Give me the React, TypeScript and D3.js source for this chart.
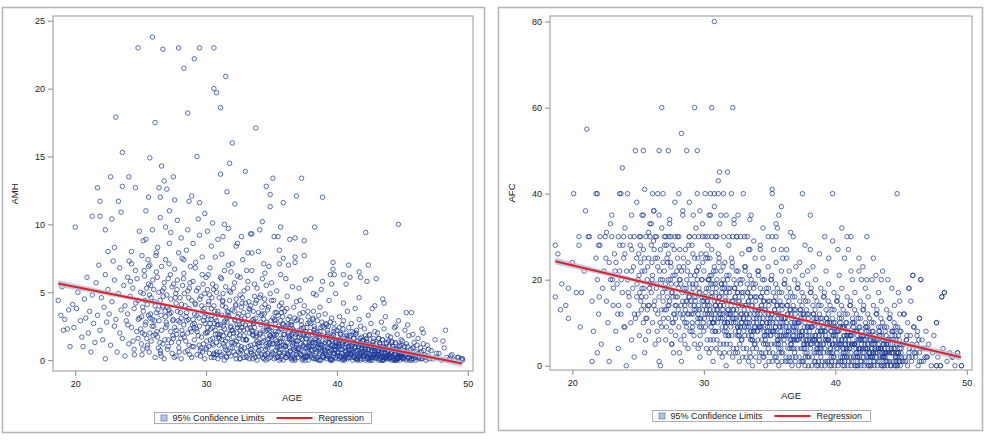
import React, { useEffect, useRef } from 'react';
import * as d3 from 'd3';

type Pt = [number, number];

const ageTicks = [20, 30, 40, 50];
const amhTicks = [0, 5, 10, 15, 20, 25];
const afcTicks = [0, 20, 40, 60, 80];

// ---------- AMH vs AGE (left panel) ----------
const amhYoung: Pt[] = [
  [18.7,4.4],[18.9,3.3],[19.0,5.4],[19.1,2.2],[19.2,3.0],[19.4,2.3],[19.5,3.7],[19.6,1.0],[19.8,4.1],[19.9,2.4],
  [20.1,3.8],[20.2,5.0],[20.4,2.9],[20.5,1.7],[20.6,1.0],[20.7,4.5],[20.8,3.1],[20.9,6.1],[21.0,2.0],[21.1,3.6],[21.2,0.6],
  [21.3,4.8],[21.4,2.7],[21.5,1.3],[21.6,5.7],[21.7,3.3],[21.8,7.0],[21.9,2.2],
  [22.0,4.6],[22.1,1.5],[22.2,3.9],[22.3,6.3],[22.3,0.1],[22.4,2.8],[22.5,5.2],[22.6,3.4],[22.7,1.1],[22.8,4.3],
  [22.9,7.3],[23.0,2.5],[23.0,5.9],[23.1,3.0],[23.2,0.6],[23.3,4.9],[23.4,2.0],[23.4,6.8],[23.5,3.7],[23.6,1.6],
  [23.7,5.5],[23.8,4.0],[23.8,0.3],[23.9,2.9],[24.0,6.1],[24.0,3.4],[24.1,1.2],[24.2,4.7],[24.3,8.0],[24.3,2.4],
  [24.4,5.3],[24.5,0.8],[24.5,3.8],[24.6,6.6],[24.7,2.1],[24.8,4.4],[24.8,1.6],[24.9,3.1],
];

const amhTwenties: Pt[] = [
  [25.0,5.0],[25.0,2.3],[25.1,7.7],[25.1,0.4],[25.2,3.6],[25.2,4.9],[25.3,1.9],[25.3,6.2],[25.4,2.8],[25.4,8.9],
  [25.5,4.1],[25.5,0.9],[25.6,3.3],[25.6,5.6],[25.7,2.0],[25.7,7.0],[25.8,4.6],[25.8,1.4],[25.9,3.0],[25.9,9.6],
  [26.0,5.2],[26.0,2.5],[26.1,0.2],[26.1,4.0],[26.2,6.5],[26.2,3.5],[26.3,1.7],[26.3,8.3],[26.4,2.9],[26.4,5.0],
  [26.5,0.7],[26.5,4.4],[26.6,6.9],[26.6,2.2],[26.7,3.9],[26.7,1.2],[26.8,5.7],[26.8,0.1],[26.9,3.2],[26.9,7.4],
  [27.0,2.6],[27.0,4.8],[27.1,1.0],[27.1,6.0],[27.2,3.4],[27.2,8.6],[27.3,2.1],[27.3,4.5],[27.4,0.5],[27.4,5.4],
  [27.5,3.0],[27.5,1.6],[27.6,6.7],[27.6,2.4],[27.7,4.2],[27.7,0.3],[27.8,5.9],[27.8,3.6],[27.9,1.3],[27.9,7.9],
  [28.0,2.8],[28.0,4.6],[28.1,0.1],[28.1,3.1],[28.2,5.5],[28.2,1.9],[28.3,6.4],[28.3,2.6],[28.4,4.0],[28.4,0.6],
  [28.5,3.5],[28.5,8.1],[28.6,2.0],[28.6,5.1],[28.7,1.1],[28.7,3.8],[28.8,6.9],[28.8,2.3],[28.9,4.4],[28.9,0.2],
  [29.0,3.0],[29.0,5.8],[29.1,1.5],[29.1,2.7],[29.2,7.2],[29.2,4.1],[29.3,0.4],[29.3,3.3],[29.4,5.3],[29.4,1.8],
  [29.5,9.2],[29.5,2.5],[29.6,4.7],[29.6,0.9],[29.7,3.6],[29.7,6.3],[29.8,1.2],[29.8,2.9],[29.9,4.9],[29.9,0.1],
  [25.12,2.0],[25.32,4.4],[25.52,1.1],[25.72,3.1],[25.92,5.9],[26.12,1.9],[26.32,3.7],[26.52,0.5],[26.72,4.7],[26.92,2.4],
  [27.12,1.5],[27.32,3.5],[27.52,5.6],[27.72,2.2],[27.92,0.9],[28.12,4.1],[28.32,1.7],[28.52,2.9],[28.72,5.3],[28.92,1.0],
  [29.12,3.4],[29.32,2.1],[29.52,4.5],[29.72,0.6],[29.92,2.7],
];

const amhThirties: Pt[] = [
  [30.0,3.4],[30.0,0.8],[30.1,5.2],[30.1,2.1],[30.2,1.0],[30.2,4.3],[30.3,6.8],[30.3,2.7],[30.4,0.2],[30.4,3.8],
  [30.5,1.6],[30.5,5.6],[30.5,2.4],[30.6,0.5],[30.6,4.0],[30.7,3.1],[30.7,7.6],[30.8,1.3],[30.8,2.9],[30.8,5.0],
  [30.9,0.1],[30.9,3.6],[30.9,1.9],[30.4,8.4],[30.7,2.2],
  [31.0,4.6],[31.0,1.1],[31.1,2.6],[31.1,6.1],[31.2,0.4],[31.2,3.3],[31.3,1.8],[31.3,4.9],[31.4,2.3],[31.4,0.0],
  [31.5,3.9],[31.5,5.4],[31.5,1.4],[31.6,2.8],[31.6,0.7],[31.7,7.0],[31.7,3.5],[31.8,1.9],[31.8,4.4],[31.9,0.3],
  [31.9,2.5],[31.9,6.5],[31.3,9.1],[31.6,3.1],[31.2,1.5],
  [32.0,3.7],[32.0,0.9],[32.1,2.0],[32.1,5.3],[32.2,1.2],[32.2,3.0],[32.3,0.1],[32.3,4.5],[32.4,2.4],[32.4,6.2],
  [32.5,1.6],[32.5,3.4],[32.6,0.5],[32.6,4.8],[32.6,2.2],[32.7,1.0],[32.7,3.9],[32.8,7.4],[32.8,2.7],[32.9,0.2],
  [32.9,1.8],[32.9,5.1],[32.4,8.6],[32.2,2.9],[32.7,0.7],
  [33.0,2.6],[33.0,4.2],[33.1,0.6],[33.1,1.5],[33.2,3.3],[33.2,5.8],[33.3,2.0],[33.3,0.1],[33.4,4.0],[33.4,1.1],
  [33.5,2.9],[33.5,6.6],[33.6,0.4],[33.6,3.6],[33.6,1.8],[33.7,2.4],[33.7,4.7],[33.8,0.9],[33.8,3.1],[33.9,1.4],
  [33.9,5.3],[33.9,0.0],[33.2,7.9],[33.5,2.2],[33.8,1.7],
  [34.0,3.5],[34.0,0.3],[34.1,1.9],[34.1,4.6],[34.2,2.6],[34.2,0.8],[34.3,6.0],[34.3,1.3],[34.4,3.0],[34.4,0.1],
  [34.5,2.1],[34.5,4.1],[34.6,1.0],[34.6,5.5],[34.6,2.8],[34.7,0.5],[34.7,3.7],[34.8,1.6],[34.8,2.3],[34.9,4.9],
  [34.9,0.2],[34.9,1.2],[34.4,7.1],[34.2,3.3],[34.7,1.5],
];

const amhLate: Pt[] = [
  [35.0,2.4],[35.0,0.4],[35.0,4.4],[35.1,1.2],[35.1,3.1],[35.2,0.1],[35.2,1.8],[35.3,2.7],[35.3,0.7],[35.4,5.1],
  [35.4,1.4],[35.4,3.5],[35.5,0.2],[35.5,2.1],[35.6,1.0],[35.6,4.0],[35.6,0.5],[35.7,2.9],[35.7,1.6],[35.7,6.3],
  [35.8,0.3],[35.8,2.3],[35.8,3.8],[35.9,1.1],[35.9,0.0],[35.9,2.6],[35.3,1.5],[35.5,3.3],
  [36.0,1.9],[36.0,0.6],[36.0,3.6],[36.1,0.2],[36.1,2.5],[36.2,1.3],[36.2,4.7],[36.3,0.4],[36.3,2.0],[36.4,3.2],
  [36.4,0.9],[36.4,1.5],[36.5,0.1],[36.5,2.8],[36.6,5.4],[36.6,1.1],[36.6,0.3],[36.7,2.2],[36.7,3.9],[36.8,0.7],
  [36.8,1.7],[36.8,0.0],[36.9,2.9],[36.9,1.2],[36.9,4.3],[36.2,0.5],[36.5,1.9],[36.7,0.8],
  [37.0,1.4],[37.0,0.2],[37.0,3.0],[37.1,0.8],[37.1,2.2],[37.2,4.4],[37.2,0.4],[37.3,1.6],[37.3,2.6],[37.4,0.1],
  [37.4,1.0],[37.4,3.5],[37.5,0.6],[37.5,2.0],[37.6,5.9],[37.6,1.3],[37.6,0.3],[37.7,2.4],[37.7,0.9],[37.8,3.2],
  [37.8,0.0],[37.8,1.8],[37.9,0.5],[37.9,2.8],[37.9,1.1],[37.2,1.9],[37.5,4.0],[37.7,0.2],
  [38.0,1.5],[38.0,0.3],[38.0,2.7],[38.1,0.7],[38.1,1.9],[38.2,3.6],[38.2,0.1],[38.3,1.2],[38.3,2.3],[38.4,0.5],
  [38.4,4.8],[38.4,1.6],[38.5,0.2],[38.5,2.9],[38.6,0.9],[38.6,1.4],[38.6,3.3],[38.7,0.0],[38.7,2.1],[38.8,0.6],
  [38.8,1.1],[38.8,5.2],[38.9,0.3],[38.9,2.5],[38.9,1.8],[38.3,0.8],[38.5,1.0],[38.7,3.9],
  [39.0,1.2],[39.0,0.2],[39.0,2.4],[39.1,0.6],[39.1,3.4],[39.2,1.7],[39.2,0.1],[39.3,0.9],[39.3,2.0],[39.4,4.4],
  [39.4,0.4],[39.4,1.3],[39.5,0.0],[39.5,2.8],[39.6,0.7],[39.6,1.5],[39.6,3.1],[39.7,0.3],[39.7,1.9],[39.8,0.5],
  [39.8,2.3],[39.8,1.0],[39.9,0.2],[39.9,4.9],[39.9,1.4],[39.2,2.6],[39.5,0.8],[39.7,1.1],
];

const amhForties: Pt[] = [
  [40.0,1.0],[40.0,0.1],[40.0,2.2],[40.1,0.5],[40.1,1.5],[40.2,3.2],[40.2,0.3],[40.3,0.8],[40.3,1.9],[40.4,0.0],
  [40.4,2.6],[40.4,1.2],[40.5,0.4],[40.5,4.2],[40.6,0.2],[40.6,1.6],[40.6,0.9],[40.7,2.0],[40.7,0.6],[40.8,3.6],
  [40.8,0.1],[40.8,1.3],[40.9,0.5],[40.9,2.4],[40.9,0.8],[40.2,1.1],[40.5,2.9],[40.7,0.3],
  [41.0,0.8],[41.0,0.2],[41.0,1.8],[41.1,0.4],[41.1,2.7],[41.2,1.2],[41.2,0.0],[41.3,0.6],[41.3,1.6],[41.4,3.8],
  [41.4,0.3],[41.4,1.0],[41.5,0.1],[41.5,2.2],[41.6,0.7],[41.6,1.4],[41.6,0.2],[41.7,3.0],[41.7,0.5],[41.8,1.1],
  [41.8,0.0],[41.8,2.5],[41.9,0.4],[41.9,1.7],[41.9,0.9],[41.3,2.0],[41.5,0.6],[41.7,4.6],
  [42.0,0.6],[42.0,0.1],[42.0,1.5],[42.1,0.3],[42.1,2.3],[42.2,0.9],[42.2,0.0],[42.3,0.5],[42.3,1.3],[42.4,3.3],
  [42.4,0.2],[42.4,0.8],[42.5,0.1],[42.5,1.9],[42.6,0.4],[42.6,1.1],[42.6,2.7],[42.7,0.0],[42.7,0.7],[42.8,1.6],
  [42.8,0.3],[42.8,0.9],[42.9,0.2],[42.9,2.1],[42.9,0.6],[42.2,1.2],[42.5,0.4],[42.7,3.8],
  [43.0,0.5],[43.0,0.1],[43.0,1.2],[43.1,0.3],[43.1,2.0],[43.2,0.7],[43.2,0.0],[43.3,0.4],[43.3,1.0],[43.4,2.8],
  [43.4,0.2],[43.4,0.6],[43.5,0.0],[43.5,1.5],[43.6,0.3],[43.6,0.9],[43.6,2.3],[43.7,0.1],[43.7,0.5],[43.8,1.3],
  [43.8,0.2],[43.8,0.8],[43.9,0.1],[43.9,1.8],[43.9,0.4],[43.2,1.6],[43.5,0.3],[43.7,3.2],
  [44.0,0.4],[44.0,0.1],[44.0,1.0],[44.1,0.2],[44.1,1.7],[44.2,0.6],[44.2,0.0],[44.3,0.3],[44.3,0.8],[44.4,2.4],
  [44.4,0.1],[44.4,0.5],[44.5,0.0],[44.5,1.2],[44.6,0.2],[44.6,0.7],[44.6,1.9],[44.7,0.1],[44.7,0.4],[44.8,1.1],
  [44.8,0.0],[44.8,0.6],[44.9,0.2],[44.9,1.5],[44.9,0.3],[44.2,1.3],[44.5,0.4],[44.7,2.9],
  [45.0,0.3],[45.0,1.4],[45.1,0.1],[45.1,0.7],[45.2,2.2],[45.3,0.4],[45.3,0.0],[45.4,1.0],[45.5,0.2],[45.5,1.8],
  [45.6,0.5],[45.7,0.1],[45.7,3.5],[45.8,0.9],[45.9,0.3],[45.9,1.3],[46.0,0.0],[46.1,0.6],[46.2,1.6],[46.3,0.2],
  [46.4,0.9],[46.5,0.1],[46.6,2.0],[46.7,0.4],[46.8,0.0],[46.9,1.1],[47.0,0.3],[47.2,0.7],[47.3,0.1],[47.5,1.5],
  [47.6,0.2],[47.8,0.5],[48.0,0.0],[48.2,0.9],[48.4,0.2],[48.6,0.1],[48.8,0.4],[49.0,0.0],[49.2,0.2],[49.5,0.1],[49.6,0.0],
];

// extra points in the crowded lower band
const amhCrowdA: Pt[] = [
  [25.05,1.2],[25.15,3.9],[25.35,2.6],[25.45,5.3],[25.65,0.6],[25.75,3.4],[25.95,1.8],[26.05,4.3],[26.25,2.1],[26.35,0.9],
  [26.55,3.3],[26.65,5.1],[26.85,1.5],[26.95,2.8],[27.05,0.8],[27.15,3.7],[27.35,1.3],[27.45,2.9],[27.65,4.6],[27.75,1.9],
  [27.95,0.6],[28.05,3.5],[28.15,2.2],[28.35,4.9],[28.45,1.4],[28.65,3.0],[28.75,0.4],[28.95,2.6],[29.05,1.0],[29.15,4.2],
  [29.25,2.3],[29.45,3.1],[29.55,0.7],[29.65,1.7],[29.85,3.8],[29.95,2.0],
  [30.05,1.4],[30.15,3.0],[30.25,0.5],[30.35,2.3],[30.45,4.6],[30.55,1.1],[30.65,2.7],[30.75,0.4],[30.85,3.4],[30.95,1.7],
  [31.05,0.6],[31.15,2.1],[31.25,4.0],[31.35,1.2],[31.45,2.9],[31.55,0.3],[31.65,1.6],[31.75,3.2],[31.85,0.9],[31.95,2.2],
  [32.05,1.3],[32.15,3.6],[32.25,0.4],[32.35,2.0],[32.45,1.1],[32.55,2.6],[32.65,0.8],[32.75,4.2],[32.85,1.5],[32.95,3.1],
  [33.05,0.3],[33.15,2.3],[33.25,1.0],[33.35,3.7],[33.45,0.6],[33.55,1.9],[33.65,2.7],[33.75,0.2],[33.85,4.4],[33.95,1.2],
];

const amhCrowdB: Pt[] = [
  [34.05,1.0],[34.15,2.8],[34.25,0.4],[34.35,1.7],[34.45,3.4],[34.55,0.8],[34.65,2.2],[34.75,0.1],[34.85,1.3],[34.95,2.9],
  [35.05,0.6],[35.15,1.9],[35.25,3.0],[35.35,0.2],[35.45,1.2],[35.55,2.5],[35.65,0.8],[35.75,1.4],[35.85,3.2],[35.95,0.5],
  [36.05,1.1],[36.15,2.3],[36.25,0.3],[36.35,1.6],[36.45,0.7],[36.55,2.6],[36.65,1.3],[36.75,0.2],[36.85,1.9],[36.95,0.6],
  [37.05,2.0],[37.15,0.5],[37.25,1.2],[37.35,0.0],[37.45,2.4],[37.55,0.9],[37.65,1.6],[37.75,0.3],[37.85,1.0],[37.95,2.1],
  [38.05,0.4],[38.15,1.3],[38.25,2.2],[38.35,0.1],[38.45,0.9],[38.55,1.7],[38.65,0.5],[38.75,1.2],[38.85,2.8],[38.95,0.2],
  [39.05,0.8],[39.15,1.5],[39.25,0.3],[39.35,2.5],[39.45,0.6],[39.55,1.1],[39.65,0.0],[39.75,1.8],[39.85,0.7],[39.95,1.3],
  [40.05,0.3],[40.15,1.0],[40.25,2.0],[40.35,0.5],[40.45,1.4],[40.55,0.1],[40.65,0.7],[40.75,1.2],[40.85,0.2],[40.95,1.7],
  [41.05,0.5],[41.15,1.1],[41.25,0.2],[41.35,0.9],[41.45,1.9],[41.55,0.3],[41.65,1.0],[41.75,0.1],[41.85,0.6],[41.95,1.4],
  [42.05,0.3],[42.15,0.8],[42.25,1.6],[42.35,0.1],[42.45,0.5],[42.55,1.0],[42.65,0.2],[42.75,1.3],[42.85,0.4],[42.95,0.9],
  [43.05,0.2],[43.15,0.7],[43.25,1.2],[43.35,0.0],[43.45,0.5],[43.55,1.0],[43.65,0.2],[43.75,0.8],[43.85,0.3],[43.95,1.4],
  [44.05,0.2],[44.15,0.6],[44.25,1.0],[44.35,0.0],[44.45,0.4],[44.55,0.8],[44.65,0.1],[44.75,0.5],[44.85,0.3],[44.95,1.1],
  [45.05,0.1],[45.25,0.5],[45.45,0.2],[45.65,0.8],[45.85,0.1],[46.05,0.4],[46.25,0.1],[46.45,0.6],[46.75,0.2],[47.05,0.1],
];

const amhCrowdC: Pt[] = [
  [30.02,0.9],[30.12,2.4],[30.32,1.5],[30.42,3.3],[30.62,0.2],[30.72,1.9],[30.92,2.6],[30.17,4.1],[30.57,5.2],[30.82,0.6],
  [31.02,1.6],[31.12,0.3],[31.32,2.5],[31.42,1.0],[31.62,3.6],[31.72,0.5],[31.92,1.3],[31.27,4.4],[31.57,2.0],[31.87,5.0],
  [32.02,2.2],[32.12,0.6],[32.32,1.4],[32.42,3.2],[32.62,0.1],[32.72,2.4],[32.92,0.9],[32.27,4.0],[32.57,1.8],[32.87,3.5],
  [33.02,1.5],[33.12,0.2],[33.32,2.6],[33.42,0.8],[33.62,3.0],[33.72,1.2],[33.92,0.5],[33.27,4.3],[33.57,2.1],[33.87,1.8],
  [34.02,0.7],[34.12,2.0],[34.32,0.2],[34.42,1.4],[34.62,2.5],[34.72,0.9],[34.92,1.8],[34.27,3.9],[34.57,0.4],[34.87,2.2],
  [34.47,4.5],[34.77,1.1],
  [35.02,1.7],[35.12,0.5],[35.32,2.1],[35.42,0.9],[35.62,1.3],[35.72,0.1],[35.92,1.9],[35.27,3.5],[35.57,0.6],[35.87,2.7],
  [35.47,1.0],[35.77,4.2],
  [36.02,1.0],[36.12,0.2],[36.32,1.8],[36.42,0.6],[36.62,2.3],[36.72,1.2],[36.92,0.4],[36.27,3.0],[36.57,1.5],[36.87,0.9],
  [36.47,2.6],[36.77,0.1],
  [37.02,0.8],[37.12,1.7],[37.32,0.4],[37.42,1.1],[37.62,2.1],[37.72,0.6],[37.92,1.4],[37.27,2.9],[37.57,0.2],[37.87,0.9],
  [37.47,1.9],[37.77,3.6],
  [38.02,1.0],[38.12,0.2],[38.32,1.5],[38.42,0.6],[38.62,1.9],[38.72,0.9],[38.92,0.3],[38.27,2.5],[38.57,1.2],[38.87,0.7],
  [38.47,2.1],[38.77,0.0],[38.17,3.1],
  [39.02,0.7],[39.12,1.3],[39.32,0.3],[39.42,0.9],[39.62,1.7],[39.72,0.5],[39.92,1.1],[39.27,2.2],[39.57,0.1],[39.87,0.8],
  [39.47,1.6],[39.77,2.7],[39.17,0.4],
  [40.02,0.6],[40.12,1.2],[40.32,0.2],[40.42,0.8],[40.62,1.4],[40.72,0.4],[40.92,1.0],[40.27,1.9],[40.57,0.3],[40.87,0.7],
  [40.47,2.3],[40.77,1.6],[40.17,0.1],
  [41.02,0.4],[41.12,1.0],[41.32,0.2],[41.42,0.7],[41.62,1.2],[41.72,0.3],[41.92,0.9],[41.27,1.6],[41.57,0.1],[41.87,0.5],
  [41.47,2.0],[41.77,1.3],[41.17,0.6],
  [42.02,0.3],[42.12,0.9],[42.32,0.1],[42.42,0.6],[42.62,1.0],[42.72,0.2],[42.92,0.7],[42.27,1.4],[42.57,0.0],[42.87,0.4],
  [42.47,1.8],[42.77,1.1],[42.17,0.5],
  [43.02,0.3],[43.12,0.7],[43.32,0.1],[43.42,0.5],[43.62,0.9],[43.72,0.2],[43.92,0.6],[43.27,1.2],[43.57,0.0],[43.87,0.3],
  [43.47,1.5],[43.77,0.9],[43.17,0.4],
  [44.02,0.2],[44.12,0.5],[44.32,0.1],[44.42,0.4],[44.62,0.8],[44.72,0.2],[44.92,0.5],[44.27,1.0],[44.57,0.0],[44.87,0.3],
  [44.47,1.3],[44.77,0.7],
  [45.02,0.2],[45.22,0.6],[45.42,0.1],[45.62,0.4],[45.82,0.9],[46.02,0.2],[46.22,0.5],[46.42,0.1],[46.62,0.7],[46.82,0.3],
  [45.32,1.2],[45.72,0.0],[46.12,1.1],[46.52,0.3],
];

const amhCrowdD: Pt[] = [
  [24.02,2.6],[24.22,5.8],[24.42,1.4],[24.62,4.2],[24.82,3.0],[24.12,7.3],[24.52,0.4],[24.72,6.0],
  [25.07,3.2],[25.27,6.6],[25.47,1.6],[25.67,4.8],[25.87,2.5],[25.17,0.8],[25.57,7.4],[25.77,5.5],
  [26.07,2.9],[26.27,6.1],[26.47,1.3],[26.67,4.0],[26.87,3.6],[26.17,7.7],[26.57,0.3],[26.77,5.3],
  [27.07,3.9],[27.27,6.3],[27.47,1.8],[27.67,4.9],[27.87,2.9],[27.17,7.1],[27.57,0.2],[27.77,5.2],
  [28.07,1.6],[28.27,6.0],[28.47,3.2],[28.67,4.6],[28.87,2.1],[28.17,7.5],[28.57,0.7],[28.77,5.7],
  [29.07,2.4],[29.27,5.1],[29.47,1.1],[29.67,4.0],[29.87,3.2],[29.17,6.8],[29.57,0.3],[29.77,5.6],
  [30.07,2.0],[30.27,4.8],[30.47,1.2],[30.67,3.6],[30.87,2.6],[30.17,6.3],[30.57,0.4],[30.77,5.4],[30.37,3.0],
  [31.07,1.9],[31.27,4.3],[31.47,0.8],[31.67,3.3],[31.87,2.4],[31.17,6.0],[31.57,0.2],[31.77,5.1],[31.37,2.8],
  [32.07,1.7],[32.27,4.1],[32.47,0.6],[32.67,3.0],[32.87,2.2],[32.17,5.7],[32.57,0.1],[32.77,4.6],[32.37,2.6],
  [33.07,1.5],[33.27,3.8],[33.47,0.5],[33.67,2.8],[33.87,2.0],[33.17,5.3],[33.57,0.1],[33.77,4.2],[33.37,2.4],
  [34.07,1.3],[34.27,3.4],[34.47,0.4],[34.67,2.6],[34.87,1.8],[34.17,4.8],[34.57,0.0],[34.77,3.9],[34.37,2.2],
  [35.07,1.2],[35.27,2.9],[35.47,0.3],[35.67,2.3],[35.87,1.6],[35.17,4.4],[35.57,0.0],[35.77,3.5],[35.37,1.9],
  [36.07,1.0],[36.27,2.6],[36.47,0.2],[36.67,2.0],[36.87,1.4],[36.17,3.8],[36.57,0.0],[36.77,3.1],[36.37,1.7],
  [37.07,0.9],[37.27,2.3],[37.47,0.2],[37.67,1.8],[37.87,1.3],[37.17,3.4],[37.57,0.0],[37.77,2.7],[37.37,1.5],
  [38.07,0.8],[38.27,2.0],[38.47,0.1],[38.67,1.6],[38.87,1.1],[38.17,3.0],[38.57,0.0],[38.77,2.4],[38.37,1.3],
  [39.07,0.7],[39.27,1.8],[39.47,0.1],[39.67,1.4],[39.87,1.0],[39.17,2.7],[39.57,0.0],[39.77,2.1],[39.37,1.2],
  [40.07,0.6],[40.27,1.5],[40.47,0.1],[40.67,1.2],[40.87,0.9],[40.17,2.4],[40.57,0.0],[40.77,1.8],[40.37,1.0],
  [41.07,0.5],[41.27,1.3],[41.47,0.1],[41.67,1.0],[41.87,0.8],[41.17,2.1],[41.57,0.0],[41.77,1.6],[41.37,0.9],
  [42.07,0.4],[42.27,1.1],[42.47,0.0],[42.67,0.9],[42.87,0.7],[42.17,1.8],[42.57,0.2],[42.77,1.4],[42.37,0.8],
  [43.07,0.4],[43.27,0.9],[43.47,0.0],[43.67,0.8],[43.87,0.6],[43.17,1.6],[43.57,0.2],[43.77,1.2],[43.37,0.7],
  [44.07,0.3],[44.27,0.8],[44.47,0.0],[44.67,0.6],[44.87,0.5],[44.17,1.4],[44.57,0.1],[44.77,1.0],
  [45.07,0.2],[45.37,0.6],[45.57,0.0],[45.87,0.4],[45.17,1.0],[45.67,0.3],
];

const amhUpper: Pt[] = [
  [24.8,23.0],[25.9,23.8],[26.7,22.9],[27.9,23.0],[29.5,23.0],[30.6,23.0],[29.1,22.2],[28.3,21.5],[31.5,20.9],
  [30.6,20.0],[30.8,19.7],[31.1,18.6],[28.6,18.2],[23.1,17.9],[26.1,17.5],[33.8,17.1],[32.0,16.0],[23.6,15.3],
  [25.7,14.9],[29.3,15.0],[26.6,14.3],[31.8,14.5],[31.1,13.7],[33.0,13.9],[22.7,13.5],[24.1,13.5],[27.5,13.5],
  [26.8,13.2],[21.7,12.7],[23.6,12.8],[24.6,12.7],[26.4,12.7],[27.0,12.6],[31.6,12.4],[35.1,13.4],[34.6,12.8],
  [34.9,12.2],[36.9,12.1],[35.9,11.6],[34.9,11.3],[32.2,11.5],[37.3,13.4],[38.9,12.0],[22.3,9.6],[21.3,10.6],
  [21.9,10.6],[22.8,10.4],[23.5,10.9],[23.3,11.7],[21.9,11.7],[25.4,11.0],[25.6,12.0],[26.5,12.0],[26.5,10.5],
  [27.2,11.0],[27.8,10.3],[27.6,11.8],[28.7,11.7],[29.5,11.6],[29.9,10.8],[29.4,10.4],[28.9,12.1],[31.4,10.0],
  [20.0,9.8],[34.3,10.2],[35.7,9.8],[38.3,9.8],[44.7,10.0],[42.2,9.4],[34.1,9.6],
];

const amhMiddle: Pt[] = [
  [33.4,9.3],[33.5,9.3],[32.7,9.1],[35.2,9.1],[35.5,9.1],[36.4,8.9],[36.8,9.0],[37.5,8.8],[35.6,8.1],[33.5,7.9],
  [37.5,7.7],[35.9,7.5],[36.8,7.6],[36.8,7.2],[35.6,7.1],[39.7,7.2],[40.9,7.0],[42.4,7.0],[39.7,6.7],[39.5,6.3],
  [39.8,6.3],[40.5,6.3],[41.0,6.1],[41.7,6.5],[41.8,6.1],[43.0,6.0],[42.3,5.8],[38.0,6.0],[38.9,5.8],[39.6,5.6],
  [40.7,5.6],[45.3,3.5],[48.3,2.2],[48.1,1.4],[46.5,2.3],[45.4,2.6],[44.5,2.5],[45.8,1.9],[46.6,1.2],[47.0,0.8],
  [47.6,0.5],[48.7,0.3],[49.3,0.2],[49.6,0.1],[43.5,4.5],[43.6,4.2],[42.9,4.0],
  [26.9,9.8],[27.3,9.4],[28.1,9.0],[29.0,8.6],[30.1,9.5],[30.9,8.9],[31.7,9.7],[32.3,8.4],[25.2,8.8],[24.9,9.5],
  [28.6,9.6],[30.5,10.1],[29.7,7.6],[31.2,7.8],[32.0,7.1],[33.1,6.6],[34.0,8.0],[34.8,6.9],[28.3,7.4],[26.2,7.9],
  [25.6,6.9],[24.3,7.1],[23.0,8.3],[22.5,8.0],[30.0,6.1],[31.4,6.6],[32.6,6.1],[33.7,5.6],[34.5,6.4],[36.1,6.0],
  [37.1,5.3],[38.2,4.9],[36.3,7.0],[35.0,5.7],
];

// fitted regression and 95% limits
const amhFitAge = [18.7, 49.55];
const amhFitValue = [5.64, -0.24];
const amhBandAge = [18.7, 26, 34, 42, 49.55];
const amhBandHalf = [0.24, 0.13, 0.08, 0.12, 0.24];

// ---------- AFC vs AGE (right panel) ----------
const afcYoung: Pt[] = [
  [18.7,16],[18.7,28],[18.9,26],[19.1,13],[19.2,19],[19.5,14],[19.7,11],[19.7,18],[20.0,24],[20.3,17],[20.5,28],
  [20.6,9],[20.7,17],[20.9,22],[21.2,30],[21.5,15],[21.5,1],[21.6,8],[21.8,25],[21.9,3],[21.9,20],
  [22.0,12],[22.1,28],[22.2,5],[22.3,18],[22.4,22],[22.5,30],[22.6,15],[22.7,10],[22.8,1],[22.8,24],[22.9,20],
  [23.0,35],[23.1,14],[23.2,26],[23.3,8],[23.4,19],[23.5,4],[23.5,30],[23.6,22],[23.7,12],[23.8,17],[23.9,25],
  [24.0,9],[24.0,32],[24.1,0],[24.2,20],[24.3,14],[24.4,28],[24.5,6],[24.5,22],[24.6,18],[24.7,2],[24.7,30],
  [24.8,11],[24.9,25],[24.9,16],
  [22.05,16],[22.55,25],[23.05,20],[23.45,12],[23.85,28],[24.25,17],[24.65,23],[25.05,26],[25.45,18],[25.85,14],
  [26.05,24],[26.45,8],[26.85,20],[25.25,13],[24.45,10],[23.25,22],
];

const afcTwenties: Pt[] = [
  [25.0,20],[25.0,12],[25.1,30],[25.1,7],[25.2,24],[25.2,15],[25.3,35],[25.3,18],[25.4,10],[25.4,27],[25.5,22],
  [25.5,3],[25.6,16],[25.6,30],[25.7,13],[25.7,20],[25.8,25],[25.8,8],[25.9,19],[25.9,33],[25.3,22],[25.6,11],
  [26.0,17],[26.0,28],[26.1,10],[26.1,21],[26.2,14],[26.2,36],[26.3,25],[26.3,5],[26.4,19],[26.4,30],[26.5,12],
  [26.5,23],[26.6,16],[26.6,1],[26.7,27],[26.7,20],[26.8,9],[26.8,32],[26.9,15],[26.9,24],[26.4,18],[26.7,0],
  [27.0,22],[27.0,13],[27.1,30],[27.1,6],[27.2,18],[27.2,25],[27.3,11],[27.3,20],[27.4,34],[27.4,15],[27.5,8],
  [27.5,23],[27.6,17],[27.6,28],[27.7,12],[27.7,3],[27.8,21],[27.8,30],[27.9,14],[27.9,19],[27.3,26],[27.6,10],
  [28.0,16],[28.0,25],[28.1,9],[28.1,30],[28.2,20],[28.2,12],[28.3,1],[28.3,22],[28.4,15],[28.4,35],[28.5,18],
  [28.5,7],[28.6,27],[28.6,13],[28.7,20],[28.7,10],[28.8,24],[28.8,4],[28.9,16],[28.9,30],[28.4,11],[28.7,17],
  [29.0,14],[29.0,21],[29.1,8],[29.1,28],[29.2,18],[29.2,12],[29.3,25],[29.3,5],[29.4,16],[29.4,32],[29.5,10],
  [29.5,20],[29.6,14],[29.6,23],[29.7,2],[29.7,17],[29.8,26],[29.8,9],[29.9,13],[29.9,30],[29.4,19],[29.7,11],
  [25.12,17],[25.42,14],[25.72,23],[26.02,19],[26.32,13],[26.62,22],[26.92,11],[27.22,16],[27.52,19],[27.82,14],
  [28.12,23],[28.42,12],[28.72,15],[28.92,19],[26.22,27],[27.02,28],
];

const afcThirties: Pt[] = [
  [30.0,15],[30.0,22],[30.0,8],[30.1,30],[30.1,12],[30.2,18],[30.2,4],[30.3,25],[30.3,14],[30.4,10],[30.4,20],
  [30.5,35],[30.5,16],[30.5,6],[30.6,12],[30.6,27],[30.7,19],[30.7,1],[30.7,10],[30.8,23],[30.8,15],[30.9,8],
  [30.9,30],[30.9,17],[30.2,13],[30.4,3],[30.6,21],[30.8,11],[30.3,28],[30.9,14],
  [31.0,13],[31.0,20],[31.0,6],[31.1,26],[31.1,11],[31.2,16],[31.2,3],[31.3,22],[31.3,12],[31.4,9],[31.4,18],
  [31.5,30],[31.5,14],[31.5,5],[31.6,10],[31.6,24],[31.7,17],[31.7,0],[31.7,8],[31.8,20],[31.8,13],[31.9,7],
  [31.9,28],[31.9,15],[31.2,12],[31.4,2],[31.6,19],[31.8,10],[31.3,35],[31.9,12],
  [32.0,12],[32.0,18],[32.0,5],[32.1,25],[32.1,10],[32.2,15],[32.2,2],[32.3,20],[32.3,11],[32.4,8],[32.4,16],
  [32.5,30],[32.5,13],[32.5,4],[32.6,9],[32.6,22],[32.7,15],[32.7,1],[32.7,7],[32.8,19],[32.8,12],[32.9,6],
  [32.9,26],[32.9,14],[32.2,11],[32.4,3],[32.6,17],[32.8,9],[32.3,33],[32.9,10],
  [33.0,11],[33.0,17],[33.0,4],[33.1,23],[33.1,9],[33.2,14],[33.2,2],[33.3,19],[33.3,10],[33.4,7],[33.4,15],
  [33.5,27],[33.5,12],[33.5,3],[33.6,8],[33.6,20],[33.7,14],[33.7,0],[33.7,6],[33.8,18],[33.8,11],[33.9,5],
  [33.9,25],[33.9,13],[33.2,10],[33.4,1],[33.6,16],[33.8,8],[33.3,30],[33.9,9],
  [34.0,10],[34.0,16],[34.0,4],[34.1,22],[34.1,8],[34.2,13],[34.2,1],[34.3,18],[34.3,9],[34.4,6],[34.4,14],
  [34.5,25],[34.5,11],[34.5,2],[34.6,7],[34.6,20],[34.7,13],[34.7,0],[34.7,5],[34.8,17],[34.8,10],[34.9,4],
  [34.9,23],[34.9,12],[34.2,9],[34.4,3],[34.6,15],[34.8,7],[34.3,28],[34.9,8],
];

const afcLate: Pt[] = [
  [35.0,9],[35.0,15],[35.0,3],[35.1,20],[35.1,7],[35.2,12],[35.2,1],[35.3,17],[35.3,8],[35.4,5],[35.4,13],
  [35.5,24],[35.5,10],[35.5,2],[35.6,6],[35.6,18],[35.7,12],[35.7,0],[35.7,4],[35.8,15],[35.8,9],[35.9,3],
  [35.9,22],[35.9,11],[35.2,8],[35.4,2],[35.6,14],[35.8,6],[35.3,27],[35.9,7],
  [36.0,9],[36.0,14],[36.0,3],[36.1,19],[36.1,6],[36.2,11],[36.2,1],[36.3,16],[36.3,8],[36.4,4],[36.4,12],
  [36.5,22],[36.5,9],[36.5,2],[36.6,5],[36.6,17],[36.7,11],[36.7,0],[36.7,4],[36.8,14],[36.8,8],[36.9,3],
  [36.9,20],[36.9,10],[36.2,7],[36.4,1],[36.6,13],[36.8,6],[36.3,25],[36.9,6],
  [37.0,8],[37.0,13],[37.0,2],[37.1,18],[37.1,6],[37.2,10],[37.2,0],[37.3,15],[37.3,7],[37.4,4],[37.4,11],
  [37.5,21],[37.5,8],[37.5,1],[37.6,5],[37.6,16],[37.7,10],[37.7,0],[37.7,3],[37.8,13],[37.8,7],[37.9,2],
  [37.9,19],[37.9,9],[37.2,6],[37.4,1],[37.6,12],[37.8,5],[37.3,24],[37.9,5],
  [38.0,7],[38.0,12],[38.0,2],[38.1,17],[38.1,5],[38.2,9],[38.2,0],[38.3,14],[38.3,6],[38.4,3],[38.4,10],
  [38.5,20],[38.5,7],[38.5,1],[38.6,4],[38.6,15],[38.7,9],[38.7,0],[38.7,3],[38.8,12],[38.8,6],[38.9,2],
  [38.9,18],[38.9,8],[38.2,5],[38.4,1],[38.6,11],[38.8,4],[38.3,23],[38.9,4],
  [39.0,7],[39.0,11],[39.0,1],[39.1,16],[39.1,5],[39.2,8],[39.2,0],[39.3,13],[39.3,6],[39.4,3],[39.4,10],
  [39.5,19],[39.5,6],[39.5,1],[39.6,4],[39.6,14],[39.7,8],[39.7,0],[39.7,2],[39.8,11],[39.8,5],[39.9,2],
  [39.9,17],[39.9,7],[39.2,4],[39.4,1],[39.6,10],[39.8,3],[39.3,22],[39.9,9],
];

const afcForties: Pt[] = [
  [40.0,6],[40.0,10],[40.0,1],[40.1,15],[40.1,4],[40.2,8],[40.2,0],[40.3,12],[40.3,5],[40.4,2],[40.4,9],
  [40.5,18],[40.5,6],[40.5,1],[40.6,3],[40.6,13],[40.7,7],[40.7,0],[40.7,2],[40.8,10],[40.8,5],[40.9,2],
  [40.9,16],[40.9,7],[40.2,4],[40.4,1],[40.6,9],[40.8,3],[40.3,21],[40.9,4],
  [41.0,5],[41.0,9],[41.0,1],[41.1,14],[41.1,4],[41.2,7],[41.2,0],[41.3,11],[41.3,5],[41.4,2],[41.4,8],
  [41.5,17],[41.5,5],[41.5,0],[41.6,3],[41.6,12],[41.7,7],[41.7,0],[41.7,2],[41.8,9],[41.8,4],[41.9,1],
  [41.9,15],[41.9,6],[41.2,3],[41.4,1],[41.6,8],[41.8,3],[41.3,20],[41.9,4],
  [42.0,5],[42.0,8],[42.0,1],[42.1,13],[42.1,3],[42.2,6],[42.2,0],[42.3,10],[42.3,4],[42.4,2],[42.4,7],
  [42.5,16],[42.5,5],[42.5,0],[42.6,3],[42.6,11],[42.7,6],[42.7,0],[42.7,2],[42.8,8],[42.8,4],[42.9,1],
  [42.9,14],[42.9,5],[42.2,3],[42.4,1],[42.6,7],[42.8,2],[42.3,18],[42.9,3],
  [43.0,4],[43.0,7],[43.0,1],[43.1,12],[43.1,3],[43.2,6],[43.2,0],[43.3,9],[43.3,4],[43.4,2],[43.4,7],
  [43.5,15],[43.5,4],[43.5,0],[43.6,2],[43.6,10],[43.7,5],[43.7,0],[43.7,2],[43.8,8],[43.8,3],[43.9,1],
  [43.9,13],[43.9,5],[43.2,3],[43.4,1],[43.6,6],[43.8,2],[43.3,17],[43.9,3],
  [44.0,4],[44.0,6],[44.0,1],[44.1,11],[44.1,3],[44.2,5],[44.2,0],[44.3,8],[44.3,3],[44.4,1],[44.4,6],
  [44.5,14],[44.5,4],[44.5,0],[44.6,2],[44.6,9],[44.7,5],[44.7,0],[44.7,2],[44.8,7],[44.8,3],[44.9,1],
  [44.9,12],[44.9,4],
  [45.0,3],[45.0,8],[45.1,1],[45.2,5],[45.2,12],[45.3,2],[45.4,6],[45.5,0],[45.5,10],[45.6,3],[45.6,18],
  [45.7,7],[45.8,1],[45.9,4],[45.9,21],[46.0,9],[46.1,2],[46.2,5],[46.3,0],[46.4,11],[46.4,3],[46.5,20],
  [46.6,6],[46.7,1],[46.8,4],[46.9,8],[47.0,2],[47.1,5],[47.3,0],[47.4,3],[47.5,7],[47.7,10],[47.7,0],
  [47.8,2],[48.0,0],[48.1,16],[48.2,4],[48.3,17],[48.5,1],[48.7,3],[48.9,2],[49.1,0],[49.3,3],[49.6,0],
];

// extra points in the crowded middle of the AFC cloud
const afcCrowdA: Pt[] = [
  [27.05,18],[27.15,9],[27.25,24],[27.35,14],[27.45,20],[27.55,5],[27.65,16],[27.75,27],[27.85,11],[27.95,22],
  [27.15,13],[27.55,17],[27.85,7],[27.35,30],[27.65,21],
  [28.05,13],[28.15,20],[28.25,6],[28.35,17],[28.45,25],[28.55,10],[28.65,15],[28.75,22],[28.85,12],[28.95,8],
  [28.25,19],[28.55,14],[28.85,28],[28.15,3],[28.65,18],
  [29.05,12],[29.15,19],[29.25,7],[29.35,15],[29.45,22],[29.55,11],[29.65,17],[29.75,5],[29.85,20],[29.95,10],
  [29.25,14],[29.55,25],[29.85,16],[29.15,9],[29.65,13],
  [30.05,11],[30.15,17],[30.25,6],[30.35,20],[30.45,13],[30.55,9],[30.65,16],[30.75,22],[30.85,12],[30.95,4],
  [30.25,15],[30.55,19],[30.85,8],[30.15,25],[30.65,10],[30.45,14],[30.95,18],
  [31.05,10],[31.15,16],[31.25,5],[31.35,19],[31.45,12],[31.55,8],[31.65,15],[31.75,21],[31.85,11],[31.95,3],
  [31.25,14],[31.55,18],[31.85,7],[31.15,24],[31.65,9],[31.45,13],[31.95,17],
  [32.05,9],[32.15,15],[32.25,4],[32.35,18],[32.45,11],[32.55,7],[32.65,14],[32.75,20],[32.85,10],[32.95,2],
  [32.25,13],[32.55,17],[32.85,6],[32.15,23],[32.65,8],[32.45,12],[32.95,16],
  [33.05,8],[33.15,14],[33.25,4],[33.35,17],[33.45,10],[33.55,6],[33.65,13],[33.75,19],[33.85,9],[33.95,2],
  [33.25,12],[33.55,16],[33.85,5],[33.15,22],[33.65,7],[33.45,11],[33.95,15],
  [34.05,8],[34.15,13],[34.25,3],[34.35,16],[34.45,10],[34.55,5],[34.65,12],[34.75,18],[34.85,9],[34.95,1],
  [34.25,11],[34.55,15],[34.85,5],[34.15,21],[34.65,7],[34.45,10],[34.95,14],
];

const afcCrowdB: Pt[] = [
  [35.05,7],[35.15,12],[35.25,3],[35.35,15],[35.45,9],[35.55,5],[35.65,11],[35.75,17],[35.85,8],[35.95,1],
  [35.25,10],[35.55,14],[35.85,4],[35.15,20],[35.65,6],[35.45,9],[35.95,13],
  [36.05,7],[36.15,11],[36.25,2],[36.35,14],[36.45,8],[36.55,4],[36.65,10],[36.75,16],[36.85,7],[36.95,1],
  [36.25,9],[36.55,13],[36.85,4],[36.15,19],[36.65,6],[36.45,8],[36.95,12],
  [37.05,6],[37.15,10],[37.25,2],[37.35,13],[37.45,8],[37.55,4],[37.65,9],[37.75,15],[37.85,6],[37.95,0],
  [37.25,8],[37.55,12],[37.85,3],[37.15,18],[37.65,5],[37.45,7],[37.95,11],
  [38.05,6],[38.15,9],[38.25,2],[38.35,12],[38.45,7],[38.55,3],[38.65,8],[38.75,14],[38.85,5],[38.95,0],
  [38.25,7],[38.55,11],[38.85,3],[38.15,17],[38.65,5],[38.45,6],[38.95,10],
  [39.05,5],[39.15,9],[39.25,1],[39.35,11],[39.45,6],[39.55,3],[39.65,8],[39.75,13],[39.85,5],[39.95,0],
  [39.25,7],[39.55,10],[39.85,2],[39.15,16],[39.65,4],[39.45,6],[39.95,9],
  [40.05,5],[40.15,8],[40.25,1],[40.35,10],[40.45,6],[40.55,2],[40.65,7],[40.75,12],[40.85,4],[40.95,0],
  [40.25,6],[40.55,9],[40.85,2],[40.15,15],[40.65,4],[40.45,5],[40.95,8],
  [41.05,4],[41.15,7],[41.25,1],[41.35,10],[41.45,5],[41.55,2],[41.65,6],[41.75,11],[41.85,4],[41.95,0],
  [41.25,5],[41.55,8],[41.85,2],[41.15,14],[41.65,3],[41.45,5],[41.95,7],
  [42.05,4],[42.15,7],[42.25,1],[42.35,9],[42.45,5],[42.55,2],[42.65,6],[42.75,10],[42.85,3],[42.95,0],
  [42.25,5],[42.55,8],[42.85,2],[42.15,13],[42.65,3],[42.45,4],[42.95,6],
  [43.05,3],[43.15,6],[43.25,1],[43.35,8],[43.45,4],[43.55,2],[43.65,5],[43.75,9],[43.85,3],[43.95,0],
  [43.25,4],[43.55,7],[43.85,1],[43.15,12],[43.65,3],[43.45,4],[43.95,6],
  [44.05,3],[44.15,6],[44.25,0],[44.35,8],[44.45,4],[44.55,1],[44.65,5],[44.75,9],[44.85,2],[44.95,0],
  [44.25,4],[44.55,7],[44.85,1],[44.15,11],[44.65,3],
  [45.05,2],[45.15,5],[45.35,1],[45.45,7],[45.65,4],[45.85,2],[45.95,9],[46.15,3],[46.35,6],[46.55,1],
  [46.75,4],[46.95,2],[45.25,12],[45.75,15],[46.25,8],
];

const afcCrowdC: Pt[] = [
  [29.02,15],[29.12,10],[29.32,21],[29.42,13],[29.62,18],[29.72,7],[29.92,24],[29.27,16],[29.57,12],[29.87,20],
  [30.02,14],[30.12,9],[30.32,20],[30.42,12],[30.62,17],[30.72,6],[30.92,22],[30.27,15],[30.57,11],[30.87,19],[30.47,25],[30.77,13],
  [31.02,13],[31.12,8],[31.32,19],[31.42,11],[31.62,16],[31.72,5],[31.92,21],[31.27,14],[31.57,10],[31.87,18],[31.47,23],[31.77,12],
  [32.02,12],[32.12,7],[32.32,18],[32.42,10],[32.62,15],[32.72,5],[32.92,20],[32.27,13],[32.57,9],[32.87,17],[32.47,22],[32.77,11],
  [33.02,11],[33.12,7],[33.32,17],[33.42,9],[33.62,14],[33.72,4],[33.92,19],[33.27,12],[33.57,8],[33.87,16],[33.47,21],[33.77,10],
  [34.02,11],[34.12,6],[34.32,16],[34.42,9],[34.62,13],[34.72,3],[34.92,18],[34.27,12],[34.57,8],[34.87,15],[34.47,20],[34.77,10],
  [35.02,10],[35.12,5],[35.32,15],[35.42,8],[35.62,12],[35.72,3],[35.92,17],[35.27,11],[35.57,7],[35.87,14],[35.47,19],[35.77,9],
  [36.02,10],[36.12,5],[36.32,14],[36.42,7],[36.62,12],[36.72,2],[36.92,16],[36.27,10],[36.57,6],[36.87,13],[36.47,18],[36.77,9],
  [37.02,9],[37.12,4],[37.32,13],[37.42,7],[37.62,11],[37.72,2],[37.92,15],[37.27,10],[37.57,6],[37.87,12],[37.47,17],[37.77,8],
  [38.02,8],[38.12,4],[38.32,12],[38.42,6],[38.62,10],[38.72,1],[38.92,14],[38.27,9],[38.57,5],[38.87,11],[38.47,16],[38.77,7],
  [39.02,8],[39.12,3],[39.32,11],[39.42,6],[39.62,9],[39.72,1],[39.92,13],[39.27,8],[39.57,5],[39.87,10],[39.47,15],[39.77,7],
  [40.02,7],[40.12,3],[40.32,11],[40.42,5],[40.62,9],[40.72,1],[40.92,12],[40.27,8],[40.57,4],[40.87,10],[40.47,14],[40.77,6],
  [41.02,6],[41.12,2],[41.32,10],[41.42,5],[41.62,8],[41.72,0],[41.92,11],[41.27,7],[41.57,4],[41.87,9],[41.47,13],[41.77,6],
  [42.02,6],[42.12,2],[42.32,9],[42.42,4],[42.62,7],[42.72,0],[42.92,10],[42.27,6],[42.57,3],[42.87,8],[42.47,12],[42.77,5],
  [43.02,5],[43.12,2],[43.32,8],[43.42,4],[43.62,6],[43.72,0],[43.92,9],[43.27,5],[43.57,3],[43.87,7],[43.47,11],[43.77,4],
  [44.02,5],[44.12,1],[44.32,7],[44.42,3],[44.62,6],[44.72,0],[44.92,8],[44.27,4],[44.57,2],[44.87,6],[44.47,10],[44.77,3],
  [45.02,4],[45.22,1],[45.42,6],[45.62,2],[45.82,5],[46.02,3],[46.22,7],[46.42,1],[46.62,4],[46.82,2],
];

const afcCrowdD: Pt[] = [
  [23.12,18],[23.32,24],[23.52,14],[23.72,20],[23.92,9],[24.12,22],[24.32,16],[24.52,27],[24.72,12],[24.92,19],
  [25.07,21],[25.27,16],[25.47,25],[25.67,11],[25.87,18],[25.17,28],[25.57,6],[25.77,14],
  [26.07,20],[26.27,15],[26.47,25],[26.67,10],[26.87,17],[26.17,29],[26.57,6],[26.77,13],
  [27.07,19],[27.27,14],[27.47,24],[27.67,10],[27.87,16],[27.17,28],[27.57,5],[27.77,12],
  [28.07,18],[28.27,14],[28.47,23],[28.67,9],[28.87,16],[28.17,27],[28.57,5],[28.77,12],
  [29.07,17],[29.27,13],[29.47,22],[29.67,9],[29.87,15],[29.17,26],[29.57,4],[29.77,11],
  [30.07,16],[30.27,12],[30.47,21],[30.67,8],[30.87,14],[30.17,26],[30.57,4],[30.77,10],[30.37,18],
  [31.07,15],[31.27,11],[31.47,20],[31.67,7],[31.87,13],[31.17,25],[31.57,3],[31.77,10],[31.37,17],
  [32.07,14],[32.27,10],[32.47,19],[32.67,7],[32.87,12],[32.17,24],[32.57,3],[32.77,9],[32.37,16],
  [33.07,13],[33.27,9],[33.47,18],[33.67,6],[33.87,12],[33.17,23],[33.57,2],[33.77,8],[33.37,15],
  [34.07,12],[34.27,9],[34.47,17],[34.67,6],[34.87,11],[34.17,22],[34.57,2],[34.77,8],[34.37,14],
  [35.07,11],[35.27,8],[35.47,16],[35.67,5],[35.87,10],[35.17,21],[35.57,1],[35.77,7],[35.37,13],
  [36.07,11],[36.27,7],[36.47,15],[36.67,5],[36.87,9],[36.17,20],[36.57,1],[36.77,7],[36.37,12],
  [37.07,10],[37.27,7],[37.47,14],[37.67,4],[37.87,9],[37.17,19],[37.57,1],[37.77,6],[37.37,12],
  [38.07,9],[38.27,6],[38.47,13],[38.67,4],[38.87,8],[38.17,18],[38.57,0],[38.77,6],[38.37,11],
  [39.07,9],[39.27,6],[39.47,12],[39.67,3],[39.87,7],[39.17,17],[39.57,0],[39.77,5],[39.37,10],
  [40.07,8],[40.27,5],[40.47,11],[40.67,3],[40.87,7],[40.17,16],[40.57,0],[40.77,5],[40.37,9],
  [41.07,7],[41.27,5],[41.47,10],[41.67,2],[41.87,6],[41.17,15],[41.57,0],[41.77,4],[41.37,9],
  [42.07,7],[42.27,4],[42.47,9],[42.67,2],[42.87,6],[42.17,14],[42.57,0],[42.77,4],[42.37,8],
  [43.07,6],[43.27,4],[43.47,9],[43.67,2],[43.87,5],[43.17,13],[43.57,0],[43.77,3],[43.37,7],
  [44.07,6],[44.27,3],[44.47,8],[44.67,1],[44.87,5],[44.17,12],[44.57,0],[44.77,3],
];

const afcUpper: Pt[] = [
  [30.8,80],[21.1,55],[26.8,60],[29.3,60],[30.6,60],[32.2,60],[28.3,54],[24.8,50],[25.4,50],[26.6,50],[27.3,50],
  [28.7,50],[29.5,50],[23.8,46],[31.2,45],[31.8,45],[31.1,43],[25.5,41],[20.1,40],[21.8,40],[21.9,40],[23.6,40],
  [23.7,40],[24.2,40],[26.1,40],[26.5,40],[26.9,40],[28.1,40],[29.5,40],[30.1,40],[30.5,40],[30.8,40],[31.1,40],
  [31.5,40],[32.1,40],[33.0,40],[35.2,40],[35.2,41],[37.5,40],[39.8,40],[44.7,40],
  [32.6,35],[33.6,35],[35.7,35],[38.1,35],[35.9,37],[35.5,33],[35.6,32],[40.5,32],[32.5,30],[32.8,30],[33.1,30],
  [34.9,30],[35.2,30],[35.5,30],[36.8,30],[39.2,30],[40.9,30],[41.2,30],[42.4,30],[39.8,29],[33.8,29],[33.4,27],
  [34.3,27],[35.9,27],[36.3,27],[38.1,27],[40.2,27],[41.0,27],[42.9,25],[41.8,25],[43.6,22],[41.2,22],[41.8,22],
  [45.9,21],[46.5,20],[42.0,20],[42.4,20],[42.8,20],[43.5,20],[44.0,20],[45.6,18],[44.8,17],[48.3,17],[48.1,16],
  [47.7,10],[46.4,11],[49.3,3],[48.9,2],[49.6,0],[47.7,0],[48.0,0],
  [20.5,30],[21.3,30],[22.1,30],[23.0,30],[23.9,30],[24.4,30],[25.2,30],[25.9,30],[26.3,30],[27.0,30],[27.5,30],
  [28.0,30],[28.9,30],[29.3,30],[29.6,30],[30.3,30],[30.6,30],[31.0,30],[31.9,30],[32.2,30],[22.9,33],[24.5,35],
  [25.4,35],[26.0,33],[26.6,35],[27.4,33],[28.4,36],[29.2,35],[29.9,33],[30.4,35],[31.2,33],[31.7,35],[32.3,34],
  [21.0,36],[23.6,28],[22.0,28],[24.9,38],[27.8,38],[28.9,38],[30.8,37],[33.5,34],[36.6,31],[37.7,28],[38.8,26],
  [39.5,25],[40.7,25],[42.1,23],[43.1,21],[44.3,18],[44.9,15],[36.0,25],[37.0,23],[37.9,22],[34.5,32],[26.2,36],
  [29.7,36],[25.8,31],[22.6,31],[24.0,26],
];

const afcFitAge = [18.7, 49.55];
const afcFitValue = [24.3, 1.95];
const afcBandAge = [18.7, 26, 34, 42, 49.55];
const afcBandHalf = [0.8, 0.45, 0.3, 0.42, 0.8];

const legendLabels = ['95% Confidence Limits', 'Regression'];

interface Panel {
  id: string;
  yLabel: string;
  points: Pt[];
  yTicks: number[];
  xDomain: [number, number];
  yDomain: [number, number];
  plot: { left: number; right: number; top: number; bottom: number };
  frame: { x: number; y: number; w: number; h: number };
  fitAge: number[];
  fitValue: number[];
  bandAge: number[];
  bandHalf: number[];
  yLabelPos: [number, number];
  xLabelPos: [number, number];
  legend: { x: number; y: number; w: number; h: number };
}

const panels: Panel[] = [
  {
    id: 'amh',
    yLabel: 'AMH',
    points: [...amhYoung, ...amhTwenties, ...amhThirties, ...amhLate, ...amhForties,
      ...amhCrowdA, ...amhCrowdB, ...amhCrowdC, ...amhCrowdD, ...amhUpper, ...amhMiddle],
    yTicks: amhTicks,
    xDomain: [18.3, 50.4],
    yDomain: [-0.8, 25.35],
    plot: { left: 53, right: 473, top: 16, bottom: 371 },
    frame: { x: 2.5, y: 7.5, w: 482, h: 425 },
    fitAge: amhFitAge,
    fitValue: amhFitValue,
    bandAge: amhBandAge,
    bandHalf: amhBandHalf,
    yLabelPos: [18, 194],
    xLabelPos: [292, 401],
    legend: { x: 154.5, y: 412.5, w: 217, h: 11 },
  },
  {
    id: 'afc',
    yLabel: 'AFC',
    points: [...afcYoung, ...afcTwenties, ...afcThirties, ...afcLate, ...afcForties,
      ...afcCrowdA, ...afcCrowdB, ...afcCrowdC, ...afcCrowdD, ...afcUpper],
    yTicks: afcTicks,
    xDomain: [18.3, 50.4],
    yDomain: [-1.0, 81.3],
    plot: { left: 550, right: 972, top: 16, bottom: 370 },
    frame: { x: 498.5, y: 7.5, w: 484, h: 423 },
    fitAge: afcFitAge,
    fitValue: afcFitValue,
    bandAge: afcBandAge,
    bandHalf: afcBandHalf,
    yLabelPos: [515, 193],
    xLabelPos: [791, 399],
    legend: { x: 652.5, y: 410.5, w: 218, h: 11 },
  },
];

const FONT = '"Liberation Sans", Arial, Helvetica, sans-serif';

function drawPanel(svg: d3.Selection<SVGSVGElement, unknown, null, undefined>, p: Panel) {
  const x = d3.scaleLinear().domain(p.xDomain).range([p.plot.left, p.plot.right]);
  const y = d3.scaleLinear().domain(p.yDomain).range([p.plot.bottom, p.plot.top]);
  const g = svg.append('g');

  // outer graph border
  g.append('rect')
    .attr('x', p.frame.x).attr('y', p.frame.y)
    .attr('width', p.frame.w).attr('height', p.frame.h)
    .attr('fill', 'white').attr('stroke', '#b4b4b4').attr('stroke-width', 1.5);

  // clip for the data area
  const clipId = `clip-${p.id}`;
  g.append('clipPath').attr('id', clipId).append('rect')
    .attr('x', p.plot.left).attr('y', p.plot.top)
    .attr('width', p.plot.right - p.plot.left).attr('height', p.plot.bottom - p.plot.top);

  const data = g.append('g').attr('clip-path', `url(#${clipId})`);

  // scatter
  data.selectAll('circle')
    .data(p.points)
    .enter().append('circle')
    .attr('cx', d => x(d[0]))
    .attr('cy', d => y(d[1]))
    .attr('r', 2.25)
    .attr('fill', 'none')
    .attr('stroke', '#1b3996')
    .attr('stroke-opacity', 0.72)
    .attr('stroke-width', 1.0);

  // fitted line helper
  const fit = d3.scaleLinear().domain(p.fitAge).range(p.fitValue);

  // confidence band
  const bandRows = p.bandAge.map((a, i) => ({ a, lo: fit(a) - p.bandHalf[i], hi: fit(a) + p.bandHalf[i] }));
  const area = d3.area<{ a: number; lo: number; hi: number }>()
    .x(d => x(d.a)).y0(d => y(d.lo)).y1(d => y(d.hi))
    .curve(d3.curveMonotoneX);
  data.append('path')
    .datum(bandRows)
    .attr('d', area)
    .attr('fill', '#a8bfdc')
    .attr('fill-opacity', 0.75);

  // regression line
  const line = d3.line<number>().x(a => x(a)).y(a => y(fit(a)));
  data.append('path')
    .datum(p.fitAge)
    .attr('d', line)
    .attr('fill', 'none')
    .attr('stroke', '#ee1c25')
    .attr('stroke-width', 2);

  // plot wall border
  g.append('rect')
    .attr('x', p.plot.left).attr('y', p.plot.top)
    .attr('width', p.plot.right - p.plot.left).attr('height', p.plot.bottom - p.plot.top)
    .attr('fill', 'none').attr('stroke', '#a8a8a8').attr('stroke-width', 1.2);

  // axes
  const yAxis = g.append('g')
    .attr('transform', `translate(${p.plot.left},0)`)
    .call(d3.axisLeft(y).tickValues(p.yTicks).tickSize(5).tickPadding(3).tickSizeOuter(0));
  const xAxis = g.append('g')
    .attr('transform', `translate(0,${p.plot.bottom})`)
    .call(d3.axisBottom(x).tickValues(ageTicks).tickSize(5).tickPadding(5).tickSizeOuter(0));
  [yAxis, xAxis].forEach(ax => {
    ax.select('.domain').remove();
    ax.selectAll('line').attr('stroke', '#8a8a8a');
    ax.selectAll('text')
      .attr('fill', '#222')
      .style('font-size', '9px')
      .style('font-family', FONT);
  });

  // axis titles
  g.append('text')
    .attr('transform', `translate(${p.yLabelPos[0]},${p.yLabelPos[1]}) rotate(-90)`)
    .attr('text-anchor', 'middle')
    .style('font-size', '9.5px')
    .style('font-family', FONT)
    .attr('fill', '#222')
    .text(p.yLabel);
  g.append('text')
    .attr('x', p.xLabelPos[0]).attr('y', p.xLabelPos[1])
    .attr('text-anchor', 'middle')
    .style('font-size', '9.5px')
    .style('font-family', FONT)
    .attr('fill', '#222')
    .text('AGE');

  // legend
  const L = p.legend;
  const lg = g.append('g');
  lg.append('rect')
    .attr('x', L.x).attr('y', L.y).attr('width', L.w).attr('height', L.h)
    .attr('fill', 'white').attr('stroke', '#9a9a9a').attr('stroke-width', 0.8);
  lg.append('rect')
    .attr('x', L.x + 6.5).attr('y', L.y + 2.5).attr('width', 6).attr('height', 6)
    .attr('fill', '#b3c7e2').attr('stroke', '#6a84b8').attr('stroke-width', 0.8);
  lg.append('text')
    .attr('x', L.x + 18).attr('y', L.y + 8.5)
    .style('font-size', '9px').style('font-family', FONT).attr('fill', '#222')
    .text(legendLabels[0]);
  lg.append('line')
    .attr('x1', L.x + 122).attr('x2', L.x + 158)
    .attr('y1', L.y + 5.5).attr('y2', L.y + 5.5)
    .attr('stroke', '#ee1c25').attr('stroke-width', 2);
  lg.append('text')
    .attr('x', L.x + 164).attr('y', L.y + 8.5)
    .style('font-size', '9px').style('font-family', FONT).attr('fill', '#222')
    .text(legendLabels[1]);
}

export default function App() {
  const svgRef = useRef<SVGSVGElement>(null);

  useEffect(() => {
    if (!svgRef.current) return;
    const svg = d3.select(svgRef.current);
    svg.selectAll('*').remove();
    panels.forEach(p => drawPanel(svg, p));
  }, []);

  return (
    <div style={{ position: 'absolute', left: 0, top: 0, width: 988, height: 446, background: 'white' }}>
      <svg ref={svgRef} width={988} height={446} style={{ display: 'block' }} />
    </div>
  );
}
